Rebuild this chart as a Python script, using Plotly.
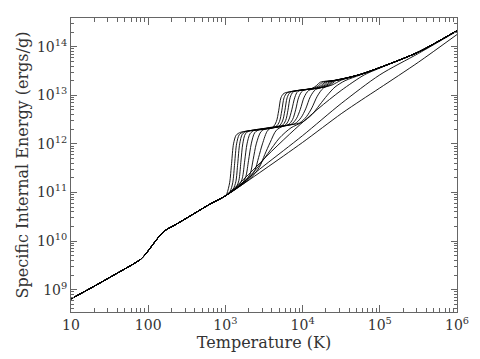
import numpy as np
import plotly.graph_objects as go

# === shared low-temperature part (all densities coincide below ~1000 K) ===
# values read in log10 units off the log-log chart
low_logT = [1.0, 1.3, 1.6, 1.8, 1.85, 1.9, 1.95, 2.0, 2.08, 2.15, 2.2, 2.25, 2.3, 2.4, 2.6, 2.8]
low_logE = [8.81, 9.07, 9.34, 9.52, 9.57, 9.62, 9.70, 9.80, 9.97, 10.11, 10.19, 10.25, 10.29, 10.38, 10.57, 10.76]

# === high-temperature branches, one per density (low density first) ===
curves_logT = [
    [3.00, 3.02, 3.055, 3.08, 3.105, 3.14, 3.20, 3.61, 3.66, 3.69, 3.72, 3.76, 4.12, 4.18, 4.23, 4.45, 4.75, 5.0, 5.5, 6.0],
    [3.00, 3.06, 3.095, 3.12, 3.145, 3.18, 3.24, 3.65, 3.70, 3.73, 3.76, 3.80, 4.15, 4.21, 4.26, 4.45, 4.75, 5.0, 5.5, 6.0],
    [3.00, 3.10, 3.135, 3.16, 3.185, 3.22, 3.28, 3.69, 3.74, 3.77, 3.80, 3.84, 4.18, 4.24, 4.29, 4.45, 4.75, 5.0, 5.5, 6.0],
    [3.00, 3.14, 3.175, 3.20, 3.225, 3.26, 3.32, 3.73, 3.78, 3.81, 3.84, 3.88, 4.21, 4.27, 4.32, 4.47, 4.75, 5.0, 5.5, 6.0],
    [3.00, 3.18, 3.22, 3.25, 3.28, 3.32, 3.38, 3.77, 3.82, 3.86, 3.90, 3.94, 4.24, 4.30, 4.35, 4.50, 4.75, 5.0, 5.5, 6.0],
    [3.00, 3.22, 3.265, 3.30, 3.335, 3.38, 3.45, 3.81, 3.87, 3.91, 3.95, 4.00, 4.27, 4.33, 4.38, 4.52, 4.75, 5.0, 5.5, 6.0],
    [3.00, 3.26, 3.32, 3.36, 3.40, 3.46, 3.54, 3.85, 3.92, 3.97, 4.02, 4.08, 4.30, 4.36, 4.41, 4.55, 4.75, 5.0, 5.5, 6.0],
    [3.00, 3.30, 3.38, 3.43, 3.48, 3.55, 3.64, 3.90, 3.98, 4.04, 4.10, 4.17, 4.33, 4.39, 4.44, 4.58, 4.75, 5.0, 5.5, 6.0],
    [3.00, 3.33, 3.44, 3.51, 3.58, 3.66, 3.76, 3.96, 4.05, 4.12, 4.19, 4.27, 4.38, 4.44, 4.50, 4.60, 4.75, 5.0, 5.5, 6.0],
    [3.00, 3.20, 3.40, 3.55, 3.70, 3.85, 4.00, 4.12, 4.22, 4.32, 4.42, 4.55, 4.75, 5.0, 5.5, 6.0],
    [3.00, 3.30, 3.60, 3.90, 4.20, 4.50, 4.80, 5.0, 5.5, 6.0],
    [3.00, 3.50, 4.00, 4.50, 5.00, 5.50, 6.0],
    [3.00, 3.50, 4.00, 4.50, 4.76, 5.00, 5.50, 6.0],
]
curves_logE = [
    [10.93, 10.98, 11.20, 11.60, 12.00, 12.18, 12.24, 12.34, 12.46, 12.68, 12.95, 13.04, 13.14, 13.20, 13.27, 13.31, 13.43, 13.57, 13.89, 14.33],
    [10.93, 11.02, 11.20, 11.60, 12.00, 12.19, 12.25, 12.35, 12.46, 12.68, 12.95, 13.05, 13.15, 13.20, 13.27, 13.31, 13.43, 13.57, 13.89, 14.33],
    [10.93, 11.07, 11.22, 11.60, 12.00, 12.20, 12.26, 12.36, 12.47, 12.68, 12.95, 13.06, 13.15, 13.20, 13.27, 13.31, 13.43, 13.57, 13.89, 14.33],
    [10.93, 11.11, 11.25, 11.62, 12.00, 12.21, 12.27, 12.37, 12.48, 12.69, 12.96, 13.07, 13.15, 13.21, 13.28, 13.32, 13.43, 13.57, 13.89, 14.33],
    [10.93, 11.15, 11.30, 11.65, 12.00, 12.21, 12.285, 12.38, 12.49, 12.70, 12.96, 13.08, 13.16, 13.22, 13.28, 13.33, 13.43, 13.57, 13.89, 14.33],
    [10.93, 11.19, 11.33, 11.66, 12.00, 12.23, 12.30, 12.39, 12.50, 12.70, 12.96, 13.09, 13.17, 13.23, 13.29, 13.34, 13.43, 13.57, 13.89, 14.33],
    [10.93, 11.24, 11.38, 11.68, 12.00, 12.25, 12.325, 12.40, 12.52, 12.71, 12.96, 13.10, 13.18, 13.24, 13.30, 13.35, 13.43, 13.57, 13.89, 14.33],
    [10.93, 11.28, 11.45, 11.72, 12.00, 12.28, 12.35, 12.415, 12.54, 12.72, 12.97, 13.12, 13.19, 13.25, 13.31, 13.36, 13.43, 13.57, 13.89, 14.33],
    [10.93, 11.30, 11.52, 11.78, 12.03, 12.28, 12.37, 12.43, 12.56, 12.74, 12.98, 13.15, 13.21, 13.26, 13.31, 13.36, 13.43, 13.57, 13.89, 14.33],
    [10.93, 11.17, 11.48, 11.80, 12.12, 12.33, 12.45, 12.60, 12.80, 13.00, 13.17, 13.30, 13.42, 13.57, 13.89, 14.33],
    [10.93, 11.37, 11.85, 12.30, 12.72, 13.10, 13.42, 13.56, 13.89, 14.33],
    [10.93, 11.55, 12.17, 12.83, 13.42, 13.86, 14.32],
    [10.93, 11.47, 12.03, 12.62, 12.90, 13.15, 13.68, 14.25],
]

x_tickvals = [10, 100, 1e3, 1e4, 1e5, 1e6]
x_ticktext = ['10', '100', '10<sup>3</sup>', '10<sup>4</sup>', '10<sup>5</sup>', '10<sup>6</sup>']
y_tickvals = [1e9, 1e10, 1e11, 1e12, 1e13, 1e14]
y_ticktext = ['10<sup>9</sup>', '10<sup>10</sup>', '10<sup>11</sup>', '10<sup>12</sup>',
              '10<sup>13</sup>', '10<sup>14</sup>']

fig = go.Figure()
for lt, le in zip(curves_logT, curves_logE):
    T = 10 ** np.array(low_logT + lt)
    E = 10 ** np.array(low_logE + le)
    fig.add_trace(go.Scatter(x=T, y=E, mode='lines',
                             line=dict(color='black', width=0.9, shape='spline', smoothing=0.8),
                             showlegend=False, hoverinfo='skip'))

font = "DejaVu Serif"
axis_common = dict(
    type='log', showgrid=False, zeroline=False,
    showline=True, linecolor='#666', linewidth=1, mirror='ticks',
    ticks='inside', tickcolor='#666', tickwidth=1,
    tickfont=dict(family=font, size=14, color='#333'),
)

# the page body adds an 8px offset, so the figure is 8px smaller and margins shifted
fig.update_xaxes(**axis_common, range=[1, 6], tickmode='array', ticklen=7,
                 tickvals=x_tickvals, ticktext=x_ticktext,
                 minor=dict(ticks='inside', ticklen=4, tickcolor='#666', tickwidth=1, dtick='D1', showgrid=False),
                 title=dict(text='Temperature (K)', font=dict(family=font, size=16, color='#333'), standoff=2))
fig.update_yaxes(**axis_common, range=[8.54, 14.59], tickmode='array', ticklen=6,
                 tickvals=y_tickvals, ticktext=y_ticktext,
                 minor=dict(ticks='inside', ticklen=3, tickcolor='#666', tickwidth=1, dtick='D1', showgrid=False),
                 title=dict(text='Specific Internal Energy (ergs/g)', font=dict(family=font, size=16, color='#333'), standoff=4))

fig.update_layout(width=472, height=351, margin=dict(l=63, r=23, t=10, b=47),
                  plot_bgcolor='white', paper_bgcolor='white')

fig.write_html("out.html")
